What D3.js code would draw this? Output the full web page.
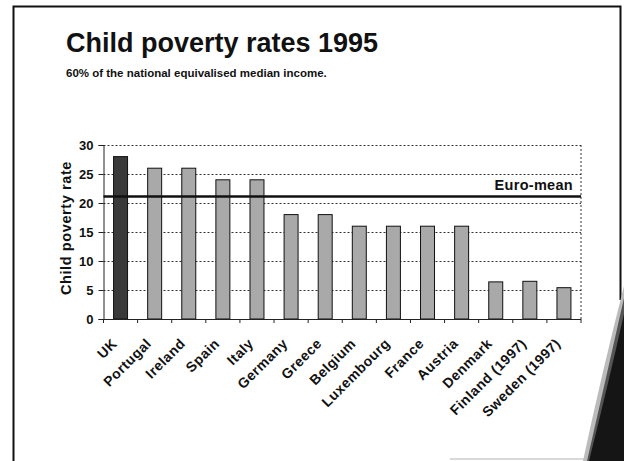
<!DOCTYPE html>
<html><head><meta charset="utf-8">
<script src="https://cdn.jsdelivr.net/npm/d3@7"></script>
<style>body{margin:0;background:#fff}svg{display:block}text{font-family:"Liberation Sans",Arial,sans-serif;font-weight:bold;fill:#111}</style>
</head><body>
<svg id="c" width="624" height="461"></svg>
<script>
const countries = ["UK","Portugal","Ireland","Spain","Italy","Germany","Greece","Belgium","Luxembourg","France","Austria","Denmark","Finland (1997)","Sweden (1997)"];
const rates = [28,26,26,24,24,18,18,16,16,16,16,6.4,6.5,5.4];
const euroMean = 21.1;
const yTicks = [0,5,10,15,20,25,30];
const title = "Child poverty rates 1995";
const subtitle = "60% of the national equivalised median income.";
const yTitle = "Child poverty rate";
const meanLabel = "Euro-mean";

const svg = d3.select("#c");
// slide frame
svg.append("path").attr("d","M13.5,461 L13.5,6.5 L620.5,6.5 L620.5,300").attr("fill","none").attr("stroke","#111").attr("stroke-width",2);
svg.append("line").attr("x1",450).attr("x2",600).attr("y1",459).attr("y2",459).attr("stroke","#ccc").attr("stroke-width",1.5);
// swoosh
svg.append("path").attr("d","M583,461 Q602,372 624,286 L624,461 Z").attr("fill","#bbb");
svg.append("path").attr("d","M587,461 Q606,378 624,298 L624,461 Z").attr("fill","#555");
svg.append("path").attr("d","M589,461 Q608,385 624,314 L624,461 Z").attr("fill","#151515");

svg.append("text").attr("x",66).attr("y",52).attr("font-size",27).text(title);
svg.append("text").attr("x",66).attr("y",77).attr("font-size",11.5).text(subtitle);

const L=103.5, R=581, T=145, B=319;
const x = d3.scaleBand().domain(countries).range([L,R]).paddingInner(0.59).paddingOuter(0.295);
const y = d3.scaleLinear().domain([0,30]).range([B,T]);

// grid
svg.append("g").selectAll("line").data(yTicks.filter(d=>d>0)).join("line")
  .attr("x1",L).attr("x2",R).attr("y1",d=>Math.round(y(d))+0.5).attr("y2",d=>Math.round(y(d))+0.5)
  .attr("stroke","#333").attr("stroke-width",1).attr("stroke-dasharray","2,2");
svg.append("line").attr("x1",R).attr("x2",R).attr("y1",T).attr("y2",B).attr("stroke","#333").attr("stroke-dasharray","2,2");

// bars
svg.append("g").selectAll("rect").data(countries).join("rect")
  .attr("x",d=>x(d)).attr("width",x.bandwidth())
  .attr("y",(d,i)=>y(rates[i])).attr("height",(d,i)=>B-y(rates[i]))
  .attr("fill",(d,i)=>i===0?"#3a3a3a":"#a9a9a9").attr("stroke","#111").attr("stroke-width",1);

// y axis
const ya = svg.append("g").attr("transform",`translate(${L},0)`).call(d3.axisLeft(y).tickValues(yTicks).tickSize(5).tickPadding(5));
ya.select(".domain").attr("stroke","#222");
ya.selectAll("text").attr("font-size",13).attr("font-family","Liberation Sans, Arial").attr("font-weight","bold").attr("fill","#111");
ya.selectAll("line").attr("stroke","#222");

// x axis
const step = x.step();
const bounds = d3.range(countries.length+1).map(i=>L+i*step);
svg.append("line").attr("x1",L).attr("x2",R).attr("y1",B+0.5).attr("y2",B+0.5).attr("stroke","#222");
svg.append("g").selectAll("line").data(bounds).join("line")
  .attr("x1",d=>d).attr("x2",d=>d).attr("y1",B).attr("y2",B+4).attr("stroke","#222");
svg.append("g").selectAll("text").data(countries).join("text")
  .attr("text-anchor","end").attr("font-size",14).attr("letter-spacing",0.5)
  .attr("transform",d=>`translate(${x(d)+x.bandwidth()/2-6},${B+22}) rotate(-45)`)
  .attr("dy","0.35em").text(d=>d);

// euro mean
svg.append("line").attr("x1",L).attr("x2",R).attr("y1",y(euroMean)).attr("y2",y(euroMean)).attr("stroke","#111").attr("stroke-width",2.5);
svg.append("text").attr("x",R-8).attr("y",y(euroMean)-7).attr("text-anchor","end").attr("font-size",14.5).attr("letter-spacing",0.3).text(meanLabel);

svg.append("text").attr("transform",`translate(71,${(T+B)/2-4}) rotate(-90)`).attr("text-anchor","middle").attr("font-size",14.5).attr("letter-spacing",0.6).text(yTitle);
</script>
</body></html>
